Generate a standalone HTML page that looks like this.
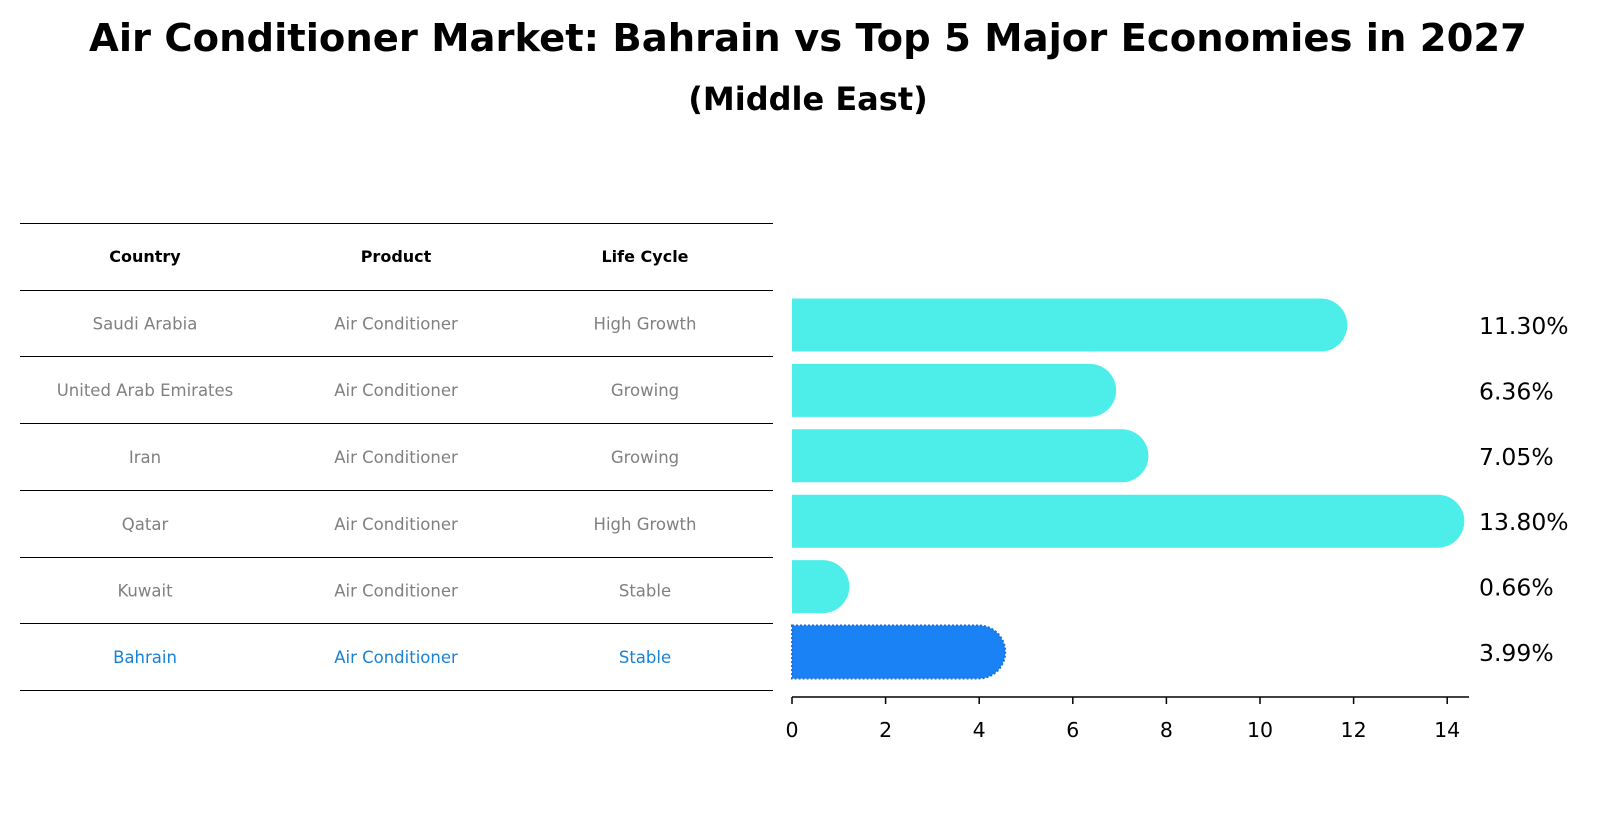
<!DOCTYPE html>
<html><head><meta charset="utf-8"><style>
body{margin:0;background:#fff;width:1604px;height:823px;overflow:hidden;font-family:"DejaVu Sans","Liberation Sans",sans-serif}
</style></head><body>
<svg id="chart" width="1604" height="823" xmlns="http://www.w3.org/2000/svg" font-family="DejaVu Sans, Liberation Sans, sans-serif">
<text x="808" y="51" text-anchor="middle" font-size="38.5" font-weight="bold">Air Conditioner Market: Bahrain vs Top 5 Major Economies in 2027</text>
<text x="808" y="110" text-anchor="middle" font-size="32" font-weight="bold">(Middle East)</text>
<g id="table"></g>
<g id="bars"></g>
</svg>
<script>
const countries=["Saudi Arabia","United Arab Emirates","Iran","Qatar","Kuwait","Bahrain"];
const products=["Air Conditioner","Air Conditioner","Air Conditioner","Air Conditioner","Air Conditioner","Air Conditioner"];
const lifeCycles=["High Growth","Growing","Growing","High Growth","Stable","Stable"];
const values=[11.30,6.36,7.05,13.80,0.66,3.99];
const xTicks=[0,2,4,6,8,10,12,14];
const NS="http://www.w3.org/2000/svg";
function mk(tag,attrs,parent){const e=document.createElementNS(NS,tag);for(const k in attrs)e.setAttribute(k,attrs[k]);parent.appendChild(e);return e;}
const tbl=document.getElementById('table'),bars=document.getElementById('bars');
const lineYs=[223.5,290.5,356.5,423.5,490.5,557.5,623.5,690.5];
const colX=[145,396,645];
lineYs.forEach((y,i)=>{const l=mk('line',{x1:20,x2:773,y1:y,y2:y,stroke:'#000','stroke-width':1},tbl);

});
["Country","Product","Life Cycle"].forEach((h,j)=>{const t=mk('text',{x:colX[j],y:262,'text-anchor':'middle','font-size':16,'font-weight':'bold'},tbl);t.textContent=h;

});
countries.forEach((c,i)=>{const y=(lineYs[i+1]+lineYs[i+2])/2+6;const col=i===countries.length-1?'#1a82d4':'#808080';
[c,products[i],lifeCycles[i]].forEach((v,j)=>{const t=mk('text',{x:colX[j],y:y,'text-anchor':'middle','font-size':16.5,fill:col},tbl);t.textContent=v;

});});
const x0=792,unit=46.8;const xs=v=>x0+v*unit;
const rowY=i=>325+i*65.4;const bh=53;
values.forEach((v,i)=>{const cy=rowY(i),r=bh/2,isB=i===values.length-1;
const p=mk('path',{d:`M${x0},${cy-r} H${xs(v)} A${r},${r} 0 0 1 ${xs(v)},${cy+r} H${x0} Z`,fill:isB?'#1a82f4':'#4deeea',stroke:isB?'#1a6fe0':'none','stroke-width':isB?2:0,'stroke-dasharray':isB?'2,2':''},bars);


const t=mk('text',{x:1479,y:cy+9,'font-size':23.5},bars);t.textContent=v.toFixed(2)+'%';

});
const ax=mk('line',{x1:x0,x2:1469,y1:697,y2:697,stroke:'#000','stroke-width':1.5},bars);


xTicks.forEach(v=>{const tk=mk('line',{x1:xs(v),x2:xs(v),y1:697,y2:704,stroke:'#000','stroke-width':1.5},bars);


const t=mk('text',{x:xs(v),y:737,'text-anchor':'middle','font-size':20.5},bars);t.textContent=v;

});
</script>
</body></html>
